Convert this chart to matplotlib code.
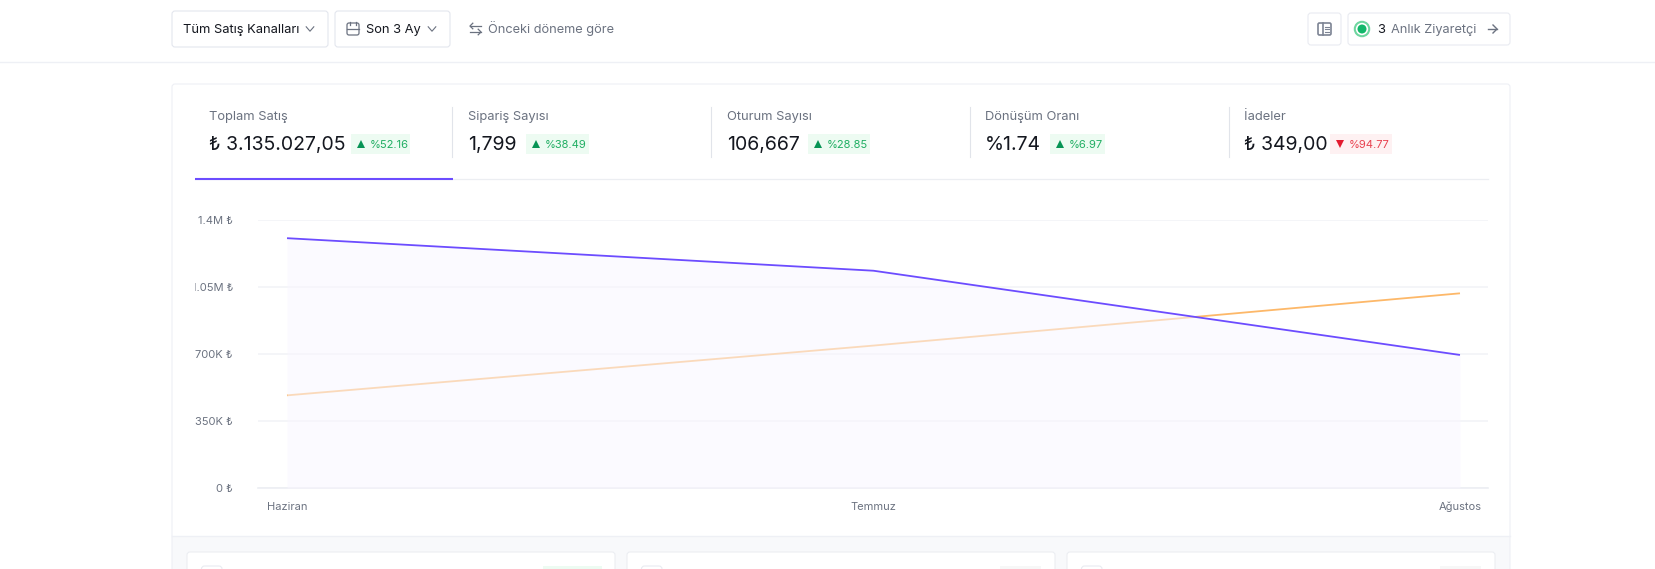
import matplotlib
matplotlib.use("Agg")
import matplotlib.pyplot as plt
from matplotlib.patches import FancyBboxPatch, Rectangle, Circle
from matplotlib.transforms import Bbox

plt.rcParams['font.family'] = ['Inter', 'DejaVu Sans']

W, H = 1656, 569

# veriler
aylar = ["Haziran", "Temmuz", "Ağustos"]
satis_simdi = [1305000, 1135000, 695000]
satis_onceki = [484000, 744000, 1017000]
y_ticks = [0, 350000, 700000, 1050000, 1400000]
y_labels = ["0 ₺", "350K ₺", "700K ₺", "1.05M ₺", "1.4M ₺"]

kpi_adlari = ["Toplam Satış", "Sipariş Sayısı", "Oturum Sayısı", "Dönüşüm Oranı", "İadeler"]
kpi_degerleri = ["₺ 3.135.027,05", "1,799", "106,667", "%1.74", "₺ 349,00"]
kpi_degisim = ["%52.16", "%38.49", "%28.85", "%6.97", "%94.77"]
kpi_yukari = [True, True, True, True, False]

MOR = "#6c4cff"
TURUNCU = "#fdb869"
GRI = "#6b7280"
KOYU = "#14171f"
CIZGI = "#e9ebf1"

fig = plt.figure(figsize=(W / 100, H / 100), dpi=100, facecolor="white")

# arayuz icin piksel koordinatli eksen
ui = fig.add_axes([0, 0, 1, 1], zorder=0)
ui.set_xlim(0, W)
ui.set_ylim(H, 0)
ui.axis("off")


def kutu(x0, y0, x1, y1, fc="white", ec=CIZGI, r=3, lw=0.8, z=1):
    ui.add_patch(FancyBboxPatch((x0 + r, y0 + r), x1 - x0 - 2 * r, y1 - y0 - 2 * r,
                                boxstyle=f"round,pad={r},rounding_size={r}",
                                fc=fc, ec=ec, lw=lw, zorder=z))


def chevron(x, y, c="#6b7280"):
    ui.plot([x - 3.8, x, x + 3.8], [y - 2.2, y + 2.2, y - 2.2], color=c, lw=0.8, zorder=3)


def ok(x0, x1, y, c=GRI, bas=2.8, lw=0.9):
    # x0'dan x1'e giden basit ok
    yon = 1 if x1 > x0 else -1
    ui.plot([x0, x1], [y, y], color=c, lw=lw, zorder=3)
    ui.plot([x1 - yon * bas, x1, x1 - yon * bas], [y - bas, y, y + bas], color=c, lw=lw, zorder=3)


# ust bar
ui.plot([0, W], [62, 62], color="#eef0f5", lw=1)
kutu(172, 11, 328, 47, ec="#e3e6ee")
ui.text(183, 33, "Tüm Satış Kanalları", fontsize=9.3, color=KOYU, va="baseline", zorder=3)
chevron(310, 29)
kutu(335, 11, 450, 47, ec="#e3e6ee")
ui.add_patch(FancyBboxPatch((349, 25), 8, 8, boxstyle="round,pad=2,rounding_size=2",
                            fc="none", ec=GRI, lw=0.9, zorder=3))
ui.plot([347, 359], [28.5, 28.5], color=GRI, lw=0.9, zorder=3)
ui.plot([350, 350], [21.5, 25], color=GRI, lw=0.9, zorder=3)
ui.plot([356, 356], [21.5, 25], color=GRI, lw=0.9, zorder=3)
ui.text(366, 33, "Son 3 Ay", fontsize=9.3, color=KOYU, va="baseline", zorder=3)
chevron(432, 29)

# onceki donem ikonu
ok(481, 470, 26)
ok(470, 481, 32)
ui.text(488, 33, "Önceki döneme göre", fontsize=9.2, color=GRI, va="baseline", zorder=3)

# sag ust
kutu(1308, 13, 1341, 45)
ui.add_patch(FancyBboxPatch((1320, 25), 9, 8, boxstyle="round,pad=2,rounding_size=1.5",
                            fc="none", ec="#7d8494", lw=1.2, zorder=3))
ui.plot([1323, 1323], [23, 35], color="#7d8494", lw=1.2, zorder=3)
for yy in [26.5, 29, 31.5]:
    ui.plot([1325.5, 1329], [yy, yy], color="#7d8494", lw=0.8, zorder=3)
kutu(1348, 13, 1510, 45)
ui.add_patch(Circle((1362, 29), 7.2, fc="white", ec="#6fd6a0", lw=1.5, zorder=3))
ui.add_patch(Circle((1362, 29), 4.5, fc="#12b76a", ec="none", zorder=4))
ui.text(1377.5, 33, "3", fontsize=9.3, color=KOYU, va="baseline", zorder=3)
ui.text(1391, 33, "Anlık Ziyaretçi", fontsize=9.2, color=GRI, va="baseline", zorder=3)
ok(1488, 1497, 29, bas=4, lw=1.0)

# ana kart
ui.add_patch(Rectangle((172, 536), 1338, 40, fc="#f8f9fb", ec="none", zorder=0.5))
kutu(172, 84, 1510, 600, fc="none", ec="#eef0f5", z=2)
ui.plot([172, 1510], [536, 536], color="#eef0f5", lw=1, zorder=2)

# alt kartlar
alt_kartlar = [(187, 615), (627, 1055), (1067, 1495)]
alt_rozet = [(543, 602, "#edfbf2"), (1000, 1041, "#f7f7f7"), (1440, 1481, "#f7f7f7")]
for (x0, x1), (b0, b1, bc) in zip(alt_kartlar, alt_rozet):
    kutu(x0, 552, x1, 600, ec="#eceef2", z=1)
    kutu(x0 + 14.5, 566, x0 + 35, 600, ec="#e9ebf1", z=1.5)
    ui.add_patch(Rectangle((b0, 566), b1 - b0, 10, fc=bc, ec="none", zorder=1.5))

# KPI sekmeleri
metin_x = [209, 468, 727, 985, 1244]
ayrac_x = [452, 711, 970, 1229]
rozet_x = [351, 526, 808, 1050, 1330]
rozet_w = [59, 63, 62, 55, 62]
for xx in ayrac_x:
    ui.plot([xx, xx], [107, 157], color="#e1e4ea", lw=0.8, zorder=3)
for i in range(5):
    ui.text(metin_x[i], 120, kpi_adlari[i], fontsize=9.3, color=GRI, va="baseline", zorder=3)
    ui.text(metin_x[i], 150, kpi_degerleri[i], fontsize=14, color=KOYU, va="baseline", zorder=3)
    fc = "#edfbf2" if kpi_yukari[i] else "#fef1f2"
    tc = "#1fae62" if kpi_yukari[i] else "#e8414f"
    mc = "#079455" if kpi_yukari[i] else "#e31b30"
    ui.add_patch(Rectangle((rozet_x[i], 134), rozet_w[i], 20, fc=fc, ec="none", zorder=2))
    ui.plot(rozet_x[i] + 10, 144, marker="^" if kpi_yukari[i] else "v", ms=5.6, mew=0, color=mc, zorder=3)
    ui.text(rozet_x[i] + 19, 147.5, kpi_degisim[i], fontsize=8, color=tc, va="baseline", zorder=3)
ui.plot([195, 1488], [179, 179], color="#eceef2", lw=0.9, zorder=2)
ui.plot([195, 453], [178.5, 178.5], color=MOR, lw=1.5, zorder=3, solid_capstyle="butt")

# grafik ekseni: 258-1488 px, 220-488 px
ax = fig.add_axes([258 / W, 1 - 488 / H, (1488 - 258) / W, (488 - 220) / H], zorder=1)
ax.patch.set_alpha(0)
x = list(range(len(aylar)))
ax.set_xlim(-29 / 586, 2 + 28 / 586)
ax.set_ylim(0, 1400000)
ax.plot(x, satis_onceki, color=TURUNCU, lw=1.3, zorder=2, clip_on=False, solid_capstyle="butt")
ax.fill_between(x, 0, satis_simdi, color="#f8f6ff", alpha=0.55, lw=0, zorder=3)
ax.plot(x, satis_simdi, color=MOR, lw=1.3, zorder=4, clip_on=False, solid_capstyle="butt")

ax.set_yticks(y_ticks, y_labels)
ax.set_xticks(x, aylar)
ax.grid(axis="y", color="#f2f3f7", lw=1.2, zorder=1, solid_capstyle="butt")
ax.tick_params(axis="both", length=0, labelsize=8, labelcolor=GRI)
ax.tick_params(axis="y", pad=18)
ax.tick_params(axis="x", pad=16)
for lab in ax.get_xticklabels():
    lab.set_va("baseline")
for s in ["top", "right", "left"]:
    ax.spines[s].set_visible(False)
ax.spines["bottom"].set_color("#eceef3")
ax.spines["bottom"].set_linewidth(1.2)

# 1.05M etiketi orijinalde soldan kirpilmis
kirpma = Bbox.from_extents(195, 0, 400, H)
for lab in ax.get_yticklabels():
    lab.set_clip_box(kirpma)
    lab.set_clip_on(True)

fig.savefig("out.png", dpi=100)
